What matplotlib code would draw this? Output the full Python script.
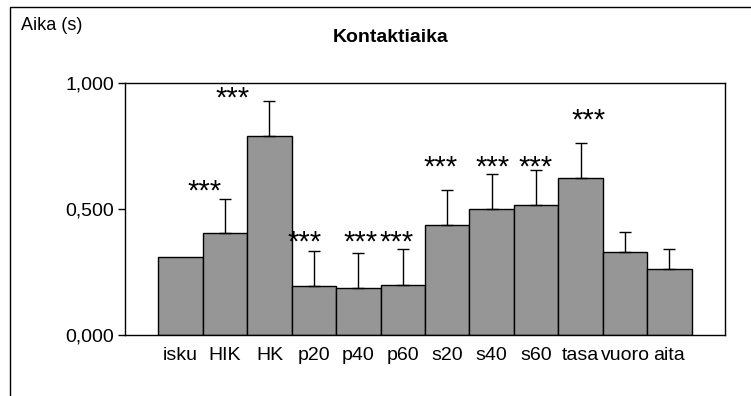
import numpy as np
import matplotlib.pyplot as plt
from matplotlib.patches import Rectangle

plt.rcParams['font.family'] = ['Liberation Sans', 'DejaVu Sans']

# Contact times per exercise (s), mean and SD
categories = ['isku', 'HIK', 'HK', 'p20', 'p40', 'p60',
              's20', 's40', 's60', 'tasa', 'vuoro', 'aita']
means = [0.308, 0.403, 0.790, 0.196, 0.185, 0.200,
         0.438, 0.500, 0.517, 0.622, 0.331, 0.261]
sds = [0.0, 0.137, 0.140, 0.139, 0.139, 0.140,
       0.137, 0.140, 0.138, 0.141, 0.079, 0.079]

# significance markers: (x position, y position of the star centres)
sig_x = [0.55, 1.17, 2.80, 4.04, 4.87, 5.86, 7.03, 7.99, 9.19]
sig_y = [0.591, 0.960, 0.389, 0.389, 0.389, 0.687, 0.687, 0.687, 0.873]

fig = plt.figure(figsize=(7.51, 3.96), dpi=100)
ax = fig.add_axes([125/751, 1 - 335/396, 600/751, 252/396])

x = np.arange(len(categories))
ax.bar(x, means, width=1.0, color='#969696', edgecolor='black', linewidth=1.0)

m = np.array(sds) > 0
ax.errorbar(x[m], np.array(means)[m], yerr=[np.zeros(m.sum()), np.array(sds)[m]],
            fmt='none', ecolor='black', elinewidth=1.0, capsize=4.5, capthick=1.0)

star_size = 21
for sx, sy in zip(sig_x, sig_y):
    # asterisks sit high in the em box, so drop the baseline under the centre
    ax.annotate('***', (sx, sy), xytext=(0, -0.46 * star_size),
                textcoords='offset points', ha='center', va='baseline',
                fontsize=star_size)

ax.set_xlim(-1.25, 12.25)
ax.set_ylim(0, 1.0)
ax.set_yticks([0, 0.5, 1.0])
ax.set_yticklabels(['0,000', '0,500', '1,000'], fontsize=14)
ax.set_xticks(x)
ax.set_xticklabels(categories, fontsize=14)
ax.tick_params(axis='x', length=0, pad=9)
ax.tick_params(axis='y', length=5, width=1, direction='out', pad=3)
for s in ax.spines.values():
    s.set_linewidth(1.0)
    s.set_color('black')

fig.text(391/751, 1 - 38/396, 'Kontaktiaika', ha='center', va='center',
         fontsize=14, fontweight='bold')
fig.text(21/751, 1 - 25/396, 'Aika (s)', ha='left', va='center', fontsize=13)

# outer chart border
fig.patches.append(Rectangle((10/751, -0.1), 1.0, 1 - 7/396 + 0.1,
                             transform=fig.transFigure, fill=False,
                             edgecolor='black', linewidth=1.0))

fig.savefig('out.png', dpi=100)
